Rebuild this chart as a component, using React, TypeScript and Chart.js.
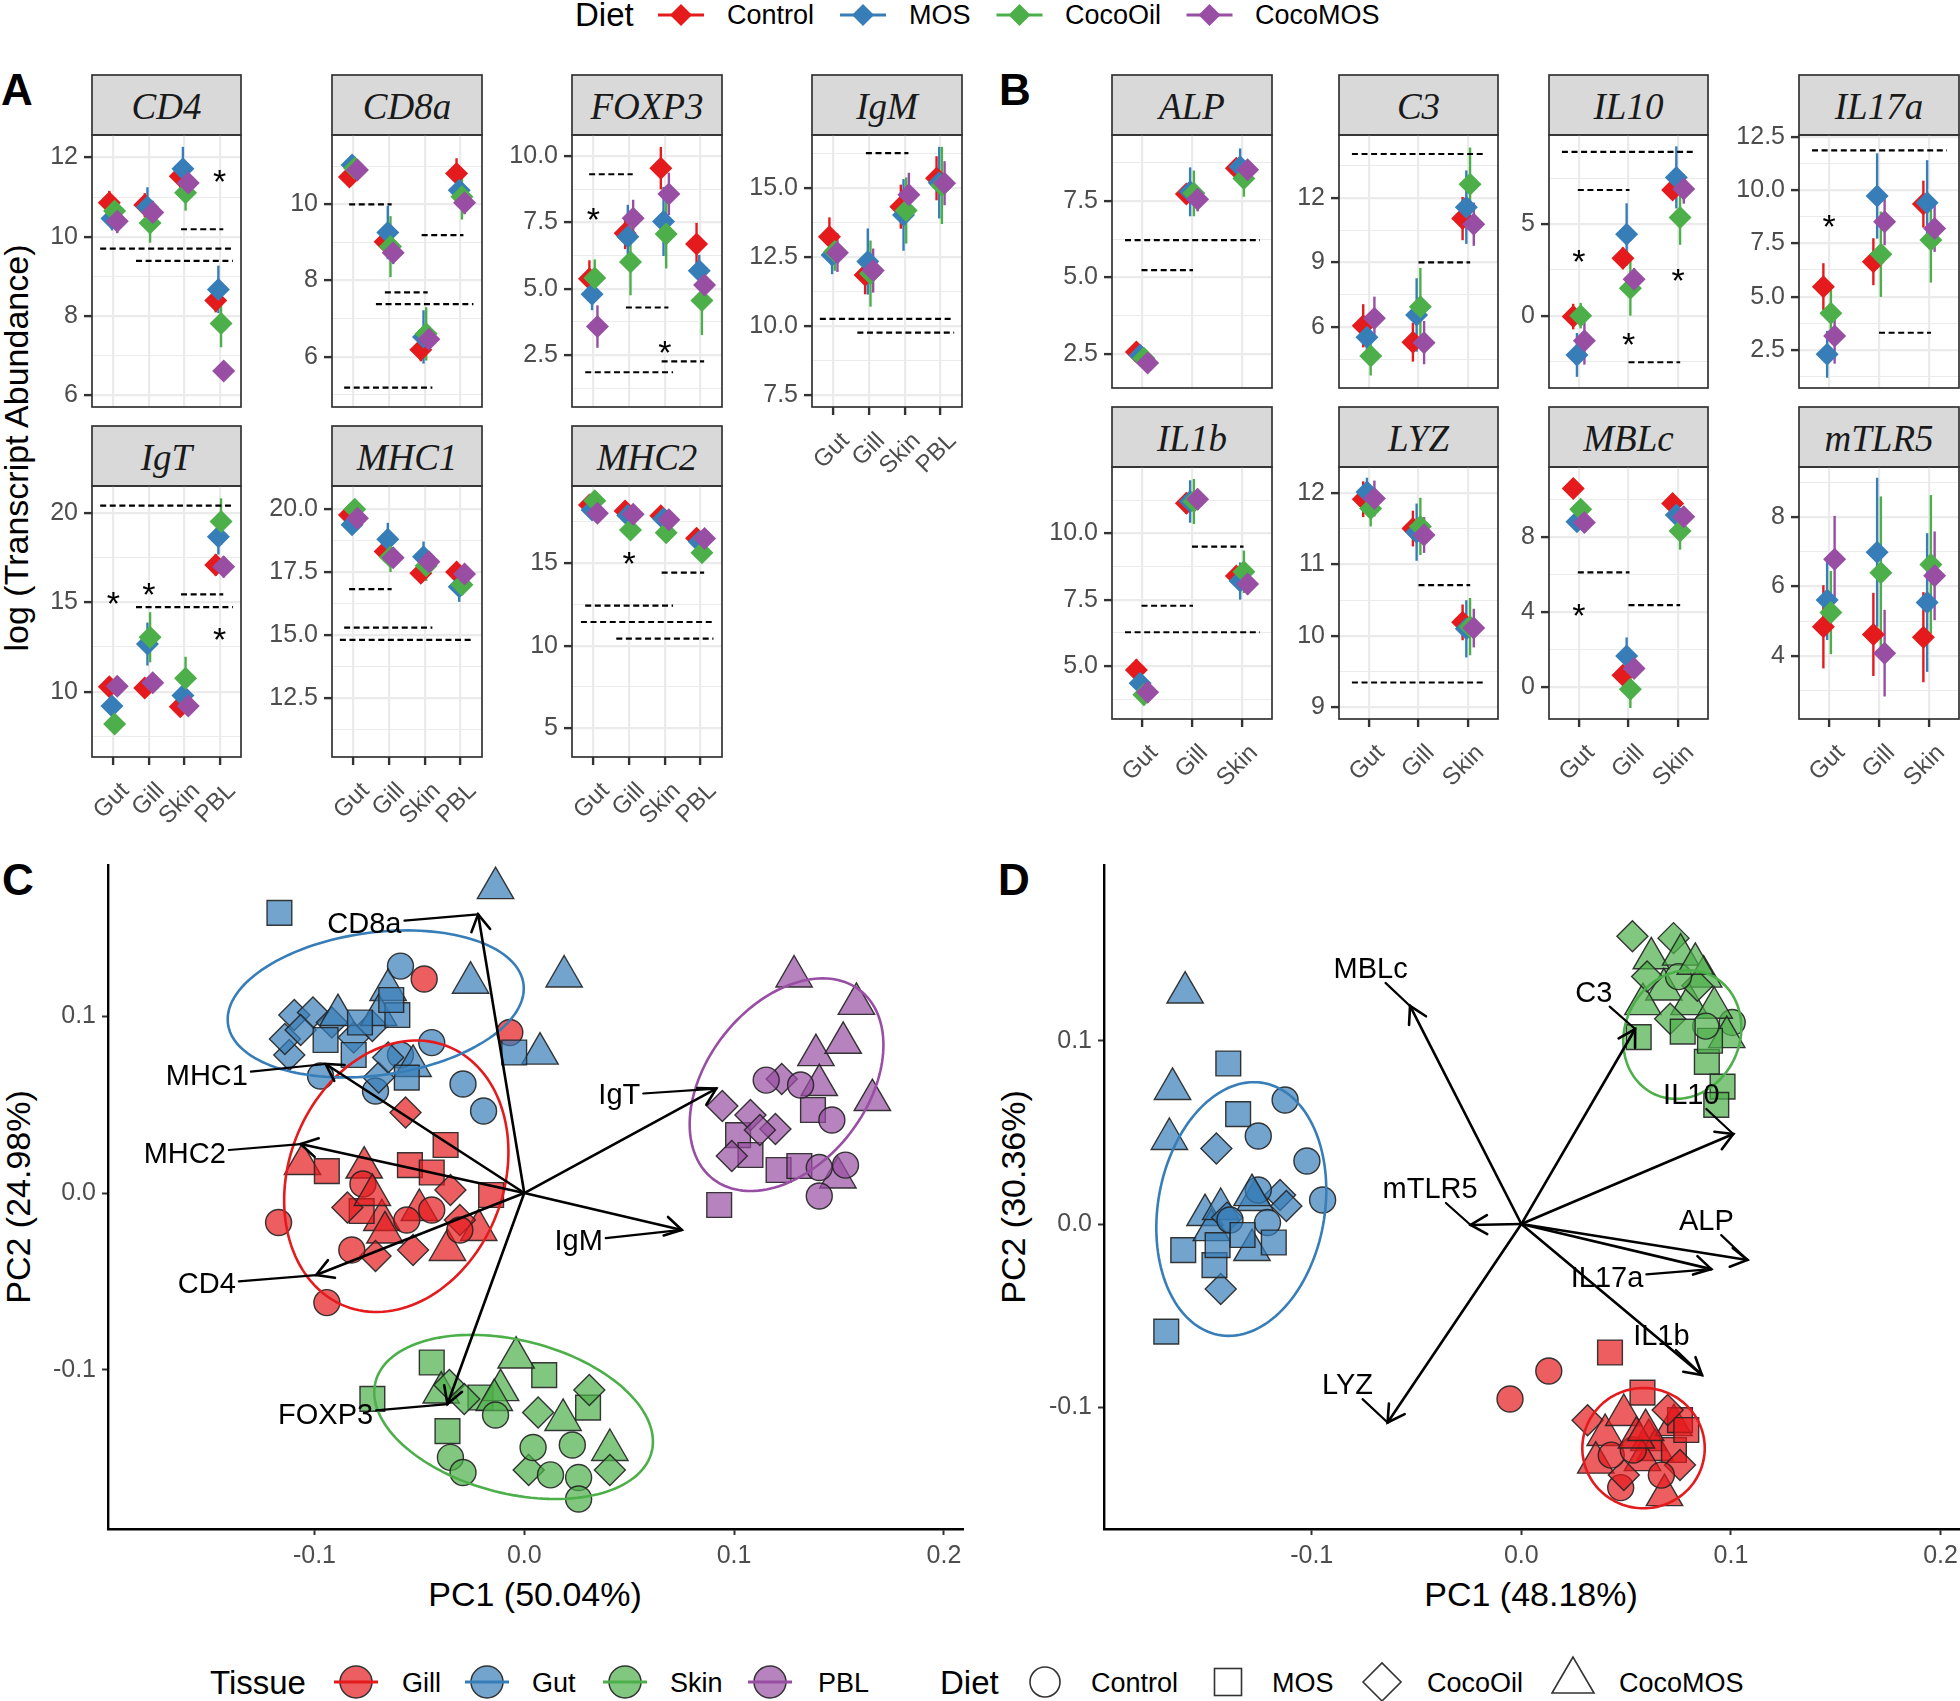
import React, { useEffect, useRef } from "react";
import { Chart, registerables } from "chart.js";

Chart.register(...registerables);

const FONT = "'Liberation Sans', Arial, Helvetica, sans-serif";
const SERIF = "'Liberation Serif', 'Times New Roman', serif";
const TICK_COLOR = "#4D4D4D";

// ---------------- categories ----------------
const diets = ["Control", "MOS", "CocoOil", "CocoMOS"];
const tissuesA = ["Gut", "Gill", "Skin", "PBL"];
const tissuesB = ["Gut", "Gill", "Skin"];
const dietColors = ["#E41A1C", "#377EB8", "#4DAF4A", "#984EA3"];
const dodge = [-0.1125, -0.0375, 0.0375, 0.1125];

// ---------------- Panel A (rows = diet, cols = tissue) ----------------
const cd4Mean = [[10.86, 10.8, 11.53, 8.39], [10.46, 10.75, 11.72, 8.67], [10.65, 10.35, 11.11, 7.81], [10.39, 10.61, 11.36, 6.61]];
const cd4Err = [[0.3, 0.3, 0.3, 0.3], [0.3, 0.5, 0.55, 0.6], [0.3, 0.5, 0.45, 0.6], [0.3, 0.3, 0.3, 0.2]];
const cd4Sig = [[0.63, 4.37, 9.7], [1.64, 4.37, 9.39], [2.91, 4.1, 10.19]];
const cd4Stars = [[4, 11.6]];
const cd4Ticks = [6, 8, 10, 12];

const cd8aMean = [[10.72, 9.02, 6.18, 10.81], [11.03, 9.26, 6.52, 10.37], [10.95, 8.89, 6.6, 10.2], [10.9, 8.73, 6.46, 10.04]];
const cd8aErr = [[0.25, 0.3, 0.3, 0.4], [0.25, 0.7, 0.7, 0.4], [0.3, 0.8, 0.7, 0.6], [0.25, 0.3, 0.3, 0.3]];
const cd8aSig = [[0.88, 2.07, 10.0], [2.91, 4.08, 9.19], [1.88, 3.08, 7.69], [1.63, 4.36, 7.38], [0.74, 3.21, 5.19]];
const cd8aStars: number[][] = [];
const cd8aTicks = [6, 8, 10];

const foxp3Mean = [[5.37, 7.09, 9.54, 6.68], [4.79, 6.96, 7.53, 5.67], [5.4, 6.0, 7.06, 4.55], [3.57, 7.65, 8.57, 5.14]];
const foxp3Err = [[0.7, 0.6, 0.8, 0.8], [0.6, 1.2, 1.3, 0.6], [0.7, 1.25, 1.3, 1.3], [0.8, 0.7, 0.8, 0.5]];
const foxp3Sig = [[0.88, 2.1, 9.31], [1.91, 3.1, 4.29], [0.77, 3.23, 1.85], [2.91, 4.1, 2.26]];
const foxp3Stars = [[1, 7.9], [3, 2.9]];
const foxp3Ticks = [2.5, 5, 7.5, 10];

const igmMean = [[13.24, 11.85, 14.33, 15.36], [12.58, 12.34, 14.03, 15.2], [12.7, 11.9, 14.19, 15.1], [12.66, 12.01, 14.76, 15.18]];
const igmErr = [[0.7, 0.7, 0.8, 0.8], [0.7, 1.2, 1.3, 1.3], [0.7, 1.2, 1.2, 1.4], [0.7, 0.8, 0.8, 0.8]];
const igmSig = [[1.91, 3.1, 16.27], [0.62, 4.38, 10.26], [1.67, 4.38, 9.76]];
const igmStars: number[][] = [];
const igmTicks = [7.5, 10, 12.5, 15];

const igtMean = [[10.28, 10.2, 9.16, 17.08], [9.2, 12.66, 9.78, 18.66], [8.19, 13.04, 10.75, 19.5], [10.3, 10.5, 9.2, 16.98]];
const igtErr = [[0.4, 0.4, 0.4, 0.6], [0.4, 1.2, 0.5, 1.0], [0.4, 1.4, 1.2, 1.3], [0.4, 0.4, 0.4, 0.6]];
const igtSig = [[0.63, 4.37, 20.39], [2.91, 4.1, 15.44], [1.64, 4.37, 14.72]];
const igtStars = [[1, 15.36], [2, 15.87], [4, 13.35]];
const igtTicks = [10, 15, 20];

const mhc1Mean = [[19.76, 18.31, 17.45, 17.5], [19.37, 18.8, 18.11, 16.92], [19.99, 18.1, 17.75, 17.0], [19.63, 18.07, 17.91, 17.42]];
const mhc1Err = [[0.3, 0.3, 0.3, 0.3], [0.3, 0.65, 0.6, 0.6], [0.3, 0.6, 0.6, 0.4], [0.3, 0.3, 0.3, 0.3]];
const mhc1Sig = [[0.88, 2.07, 16.82], [0.74, 3.21, 15.3], [0.62, 4.36, 14.81]];
const mhc1Stars: number[][] = [];
const mhc1Ticks = [12.5, 15, 17.5, 20];

const mhc2Mean = [[18.53, 18.17, 17.87, 16.51], [18.23, 17.9, 17.7, 16.3], [18.78, 17.02, 16.85, 15.64], [18.03, 17.97, 17.63, 16.5]];
const mhc2Err = [[0.3, 0.3, 0.3, 0.3], [0.3, 0.3, 0.3, 0.3], [0.3, 0.3, 0.3, 0.3], [0.3, 0.3, 0.3, 0.3]];
const mhc2Sig = [[2.91, 4.1, 14.43], [0.77, 3.23, 12.43], [0.65, 4.36, 11.44], [1.64, 4.36, 10.43]];
const mhc2Stars = [[2, 15.5]];
const mhc2Ticks = [5, 10, 15];

// ---------------- Panel B ----------------
const alpMean = [[2.56, 7.73, 8.57], [2.45, 7.8, 8.62], [2.35, 7.75, 8.24], [2.2, 7.56, 8.52]];
const alpErr = [[0.2, 0.3, 0.3], [0.2, 0.8, 0.6], [0.2, 0.75, 0.6], [0.2, 0.4, 0.3]];
const alpSig = [[0.66, 3.36, 6.22], [0.99, 2.02, 5.24]];
const alpStars: number[][] = [];
const alpTicks = [2.5, 5, 7.5];

const c3Mean = [[6.07, 5.31, 11.03], [5.54, 6.57, 11.56], [4.67, 6.95, 12.62], [6.42, 5.29, 10.77]];
const c3Err = [[1.0, 0.9, 1.0], [0.6, 1.7, 1.7], [0.9, 1.8, 1.7], [1.0, 1.0, 1.0]];
const c3Sig = [[0.66, 3.34, 14.02], [2.0, 3.04, 9.0]];
const c3Stars: number[][] = [];
const c3Ticks = [6, 9, 12];

const il10Mean = [[-0.05, 3.14, 6.88], [-2.15, 4.45, 7.57], [0, 1.5, 5.38], [-1.38, 2.0, 6.93]];
const il10Err = [[0.7, 0.6, 0.5], [1.2, 1.7, 1.7], [0.7, 1.5, 1.5], [1.3, 0.6, 0.8]];
const il10Sig = [[0.66, 3.36, 8.97], [0.98, 2.02, 6.88], [2.0, 3.04, -2.55]];
const il10Stars = [[1, 3.41], [2, -1.11], [3, 2.37]];
const il10Ticks = [0, 5];

const il17aMean = [[5.47, 6.64, 9.34], [2.3, 9.72, 9.4], [4.22, 6.99, 7.66], [3.16, 8.51, 8.2]];
const il17aErr = [[1.1, 1.1, 1.1], [1.1, 2.0, 2.0], [1.2, 2.0, 2.0], [1.3, 1.1, 1.1]];
const il17aSig = [[0.66, 3.36, 11.86], [2.0, 3.04, 3.31]];
const il17aStars = [[1, 8.67]];
const il17aTicks = [2.5, 5, 7.5, 10, 12.5];

const il1bMean = [[4.85, 11.13, 8.39], [4.35, 11.2, 8.2], [3.91, 11.2, 8.55], [4.01, 11.28, 8.09]];
const il1bErr = [[0.4, 0.4, 0.3], [0.4, 0.8, 0.7], [0.4, 0.85, 0.8], [0.4, 0.4, 0.4]];
const il1bSig = [[2.0, 3.03, 9.5], [0.99, 2.02, 7.27], [0.66, 3.36, 6.27]];
const il1bStars: number[][] = [];
const il1bTicks = [5, 7.5, 10];

const lyzMean = [[11.91, 11.5, 10.19], [12.01, 11.45, 10.1], [11.78, 11.53, 10.13], [11.92, 11.41, 10.11]];
const lyzErr = [[0.25, 0.25, 0.25], [0.2, 0.4, 0.4], [0.25, 0.4, 0.4], [0.25, 0.25, 0.27]];
const lyzSig = [[2.0, 3.04, 10.71], [0.66, 3.34, 9.35]];
const lyzStars: number[][] = [];
const lyzTicks = [9, 10, 11, 12];

const mblcMean = [[10.62, 0.62, 9.82], [8.84, 1.64, 9.2], [9.5, -0.14, 8.34], [8.8, 0.98, 9.1]];
const mblcErr = [[0.4, 0.4, 0.4], [0.4, 1.0, 0.9], [0.5, 1.0, 1.0], [0.4, 0.4, 0.4]];
const mblcSig = [[0.98, 2.02, 6.13], [2.0, 3.04, 4.37]];
const mblcStars = [[1, 4.28]];
const mblcTicks = [0, 4, 8];

const mtlr5Mean = [[4.84, 4.62, 4.54], [5.61, 6.99, 5.54], [5.25, 6.4, 6.64], [6.79, 4.08, 6.31]];
const mtlr5Err = [[1.2, 1.2, 1.3], [1.15, 2.15, 2.0], [1.2, 2.2, 2.0], [1.25, 1.25, 1.28]];
const mtlr5Sig: number[][] = [];
const mtlr5Stars: number[][] = [];
const mtlr5Ticks = [4, 6, 8];

// ---------------- Panel C (PCA) : [PC1, PC2, diet index] ----------------
const pcaCGill = [[-0.0477, 0.1211, 0], [-0.0069, 0.0908, 0], [-0.0566, 0.0455, 2], [-0.0375, 0.0272, 1], [-0.1057, 0.0164, 3], [-0.0941, 0.0124, 1], [-0.1171, -0.0167, 0], [-0.0941, -0.062, 0], [-0.0763, 0.0144, 3], [-0.0679, -0.0153, 3], [-0.0664, -0.0223, 3], [-0.0366, -0.0322, 3], [-0.0217, -0.0209, 3], [-0.05, -0.0096, 3], [-0.0545, 0.0158, 1], [-0.0441, 0.0116, 1], [-0.0158, -0.0011, 1], [-0.0775, -0.0102, 1], [-0.0843, -0.0082, 2], [-0.0709, -0.0356, 2], [-0.053, -0.0322, 2], [-0.0352, 0.0017, 2], [-0.0307, -0.0153, 2], [-0.0822, -0.0322, 0], [-0.0769, 0.0051, 0], [-0.056, -0.0153, 0], [-0.0307, -0.0209, 0], [-0.0441, -0.0096, 0], [-0.0724, -0.0011, 3]];
const pcaCGut = [[-0.1167, 0.1585, 1], [-0.0137, 0.1725, 3], [0.019, 0.1225, 3], [-0.0256, 0.119, 3], [0.0075, 0.0789, 3], [-0.0048, 0.0795, 1], [-0.0441, 0.0851, 0], [-0.0292, 0.0617, 0], [-0.0194, 0.0464, 0], [-0.0971, 0.0662, 0], [-0.0709, 0.0577, 0], [-0.059, 0.1284, 0], [-0.059, 0.0781, 0], [-0.1096, 0.1007, 2], [-0.112, 0.0781, 2], [-0.1007, 0.1021, 2], [-0.1141, 0.0871, 2], [-0.0917, 0.0965, 2], [-0.0813, 0.088, 2], [-0.0724, 0.0945, 2], [-0.0694, 0.0653, 2], [-0.0649, 0.0767, 2], [-0.1066, 0.0922, 2], [-0.0888, 0.1007, 3], [-0.0649, 0.1149, 3], [-0.0694, 0.1007, 3], [-0.053, 0.0719, 3], [-0.0783, 0.0965, 1], [-0.0605, 0.1007, 1], [-0.056, 0.0653, 1], [-0.0634, 0.1092, 1], [-0.0947, 0.0866, 1], [-0.0813, 0.0781, 1]];
const pcaCSkin = [[-0.0724, -0.1165, 1], [-0.0441, -0.0959, 1], [-0.0366, -0.1347, 1], [0.0095, -0.103, 1], [0.0304, -0.1214, 1], [-0.0209, -0.1157, 1], [-0.0396, -0.1129, 3], [-0.0039, -0.0931, 3], [-0.0113, -0.1115, 3], [0.0185, -0.1284, 3], [0.0408, -0.1454, 3], [-0.0143, -0.1171, 3], [-0.0357, -0.1086, 2], [-0.0286, -0.1165, 2], [0.0066, -0.1242, 2], [0.031, -0.1115, 2], [0.0408, -0.1567, 2], [0.0021, -0.1567, 2], [-0.0352, -0.1496, 0], [-0.0292, -0.1581, 0], [-0.0137, -0.1256, 0], [0.0042, -0.144, 0], [0.0125, -0.1595, 0], [0.0229, -0.1426, 0], [0.0259, -0.161, 0], [0.0259, -0.1731, 0]];
const pcaCPBL = [[0.1286, 0.1225, 3], [0.1583, 0.107, 3], [0.139, 0.078, 3], [0.152, 0.085, 3], [0.1659, 0.0526, 3], [0.1495, 0.0088, 3], [0.1406, 0.0611, 3], [0.0929, -0.0068, 1], [0.1212, 0.013, 1], [0.1311, 0.0153, 1], [0.1019, 0.0328, 1], [0.1078, 0.0215, 1], [0.1376, 0.047, 1], [0.0944, 0.0492, 2], [0.0989, 0.0209, 2], [0.1078, 0.0441, 2], [0.1197, 0.0362, 2], [0.1227, 0.0645, 2], [0.1123, 0.0356, 2], [0.1153, 0.0639, 0], [0.1406, -0.0017, 0], [0.1531, 0.0158, 0], [0.1406, 0.0144, 0], [0.1317, 0.0611, 0], [0.1466, 0.0413, 0]];
// ellipses: centre, semi-axis u, semi-axis v
const pcaCEllipses = [[-0.061, 0.0095, 0.0533, 0.008, 0.004, 0.0764], [-0.0708, 0.107, 0.0705, 0.007, 0.003, 0.041], [-0.0051, -0.1267, 0.0658, -0.0198, 0.009, 0.042], [0.125, 0.0613, 0.0351, 0.0533, 0.03, -0.0279]];
const pcaCVarNames = ["CD8a", "MHC1", "MHC2", "CD4", "FOXP3", "IgT", "IgM"];
const pcaCVarTips = [[-0.022, 0.1577], [-0.0947, 0.073], [-0.1066, 0.0277], [-0.0992, -0.0464], [-0.0366, -0.1194], [0.0915, 0.0591], [0.0751, -0.0209]];
const pcaCVarLabels = [[-0.0762, 0.1521], [-0.1513, 0.0662], [-0.1618, 0.0223], [-0.1513, -0.0515], [-0.0947, -0.1256], [0.0453, 0.0554], [0.0259, -0.0272]];

// ---------------- Panel D (PCA) ----------------
const pcaDGill = [[0.0423, -0.0701, 1], [0.0131, -0.0802, 0], [-0.0054, -0.0955, 0], [0.0578, -0.092, 1], [0.0316, -0.107, 2], [0.0683, -0.1479, 3], [0.0474, -0.1438, 0], [0.04, -0.1151, 3], [0.0489, -0.1042, 3], [0.0608, -0.1179, 3], [0.0638, -0.1233, 3], [0.0578, -0.1288, 3], [0.0355, -0.1302, 3], [0.0728, -0.1097, 3], [0.0757, -0.107, 1], [0.0728, -0.1233, 1], [0.0787, -0.1124, 1], [0.0698, -0.1015, 2], [0.0489, -0.137, 2], [0.0757, -0.1315, 2], [0.0429, -0.1261, 0], [0.0534, -0.1233, 0], [0.0668, -0.137, 0], [0.0549, -0.1165, 3], [0.0593, -0.1124, 3]];
const pcaDGut = [[-0.1604, 0.1263, 3], [-0.1398, 0.0876, 1], [-0.1664, 0.0737, 3], [-0.1679, 0.0464, 3], [-0.1351, 0.06, 1], [-0.1127, 0.0677, 0], [-0.1255, 0.048, 0], [-0.1455, 0.0412, 2], [-0.1023, 0.0344, 0], [-0.0948, 0.0131, 0], [-0.1694, -0.0587, 1], [-0.1434, -0.0355, 2], [-0.1613, -0.0142, 1], [-0.1464, -0.0224, 1], [-0.1509, 0.0049, 3], [-0.127, 0.0131, 3], [-0.1479, -0.0033, 3], [-0.1285, -0.0142, 3], [-0.1434, 0.0082, 3], [-0.1151, 0.0158, 2], [-0.1121, 0.0098, 2], [-0.1404, 0.0035, 2], [-0.1255, 0.0186, 0], [-0.1211, 0.0008, 0], [-0.139, 0.0022, 0], [-0.1181, -0.0101, 1], [-0.1449, -0.0115, 1], [-0.133, -0.006, 1], [-0.1285, 0.0158, 3]];
const pcaDSkin = [[0.053, 0.157, 2], [0.0726, 0.156, 2], [0.1006, 0.11, 0], [0.0885, 0.0885, 1], [0.096, 0.075, 1], [0.093, 0.065, 1], [0.062, 0.145, 3], [0.076, 0.147, 3], [0.087, 0.135, 3], [0.068, 0.128, 3], [0.08, 0.12, 3], [0.092, 0.118, 3], [0.058, 0.12, 3], [0.098, 0.102, 3], [0.071, 0.112, 2], [0.084, 0.13, 2], [0.06, 0.135, 2], [0.09, 0.1, 1], [0.056, 0.102, 1], [0.075, 0.135, 0], [0.088, 0.108, 0], [0.077, 0.105, 1], [0.083, 0.142, 3]];
const pcaDEllipses = [[0.0583, -0.1223, 0.0292, 0, 0, 0.0328], [-0.1336, 0.0082, 0.0401, 0, 0.006, 0.0692], [0.0768, 0.1034, 0.028, 0, 0.003, 0.0351]];
const pcaDVarNames = ["MBLc", "C3", "IL10", "ALP", "IL17a", "IL1b", "LYZ", "mTLR5"];
const pcaDVarTips = [[-0.0531, 0.119], [0.0543, 0.1064], [0.1011, 0.0491], [0.1079, -0.0196], [0.0906, -0.0246], [0.0862, -0.0824], [-0.0638, -0.1083], [-0.0242, -0.0005]];
const pcaDVarLabels = [[-0.0719, 0.1392], [0.0346, 0.1263], [0.0811, 0.0704], [0.0883, 0.0016], [0.0409, -0.0292], [0.0668, -0.0611], [-0.0829, -0.0879], [-0.0435, 0.0191]];

const pcaTicks = [-0.1, 0, 0.1, 0.2];
const pcaYTicks = [-0.1, 0, 0.1];
const tissueNames = ["Gill", "Gut", "Skin", "PBL"];
const tissueColors = ["#E41A1C", "#377EB8", "#4DAF4A", "#984EA3"];

// ---------------- layout (positions only) ----------------
const colsA = [92, 332, 572, 812];
const widthsA = [149, 150, 150, 150];
const rowsA = [[135, 272], [486, 271]];
const colsB = [1112, 1339, 1549, 1799];
const widthsB = [160, 159, 159, 160];
const rowsB = [[135, 253], [467, 252]];

type Facet = {
  gene: string; tissues: string[]; mean: number[][]; err: number[][]; sig: number[][]; stars: number[][];
  ticks: number[]; range: number[]; dec: number; box: number[]; showX: boolean;
};
const fa = (r: number, c: number) => [colsA[c], rowsA[r][0], widthsA[c], rowsA[r][1]];
const fb = (r: number, c: number) => [colsB[c], rowsB[r][0], widthsB[c], rowsB[r][1]];

const facets: Facet[] = [
  { gene: "CD4", tissues: tissuesA, mean: cd4Mean, err: cd4Err, sig: cd4Sig, stars: cd4Stars, ticks: cd4Ticks, range: [5.7, 12.57], dec: 0, box: fa(0, 0), showX: false },
  { gene: "CD8a", tissues: tissuesA, mean: cd8aMean, err: cd8aErr, sig: cd8aSig, stars: cd8aStars, ticks: cd8aTicks, range: [4.68, 11.82], dec: 0, box: fa(0, 1), showX: false },
  { gene: "FOXP3", tissues: tissuesA, mean: foxp3Mean, err: foxp3Err, sig: foxp3Sig, stars: foxp3Stars, ticks: foxp3Ticks, range: [0.54, 10.79], dec: 1, box: fa(0, 2), showX: false },
  { gene: "IgM", tissues: tissuesA, mean: igmMean, err: igmErr, sig: igmSig, stars: igmStars, ticks: igmTicks, range: [7.06, 16.93], dec: 1, box: fa(0, 3), showX: true },
  { gene: "IgT", tissues: tissuesA, mean: igtMean, err: igtErr, sig: igtSig, stars: igtStars, ticks: igtTicks, range: [6.35, 21.49], dec: 0, box: fa(1, 0), showX: true },
  { gene: "MHC1", tissues: tissuesA, mean: mhc1Mean, err: mhc1Err, sig: mhc1Sig, stars: mhc1Stars, ticks: mhc1Ticks, range: [10.17, 20.91], dec: 1, box: fa(1, 1), showX: true },
  { gene: "MHC2", tissues: tissuesA, mean: mhc2Mean, err: mhc2Err, sig: mhc2Sig, stars: mhc2Stars, ticks: mhc2Ticks, range: [3.26, 19.68], dec: 0, box: fa(1, 2), showX: true },
  { gene: "ALP", tissues: tissuesB, mean: alpMean, err: alpErr, sig: alpSig, stars: alpStars, ticks: alpTicks, range: [1.38, 9.66], dec: 1, box: fb(0, 0), showX: false },
  { gene: "C3", tissues: tissuesB, mean: c3Mean, err: c3Err, sig: c3Sig, stars: c3Stars, ticks: c3Ticks, range: [3.19, 14.9], dec: 0, box: fb(0, 1), showX: false },
  { gene: "IL10", tissues: tissuesB, mean: il10Mean, err: il10Err, sig: il10Sig, stars: il10Stars, ticks: il10Ticks, range: [-3.96, 9.89], dec: 0, box: fb(0, 2), showX: false },
  { gene: "IL17a", tissues: tissuesB, mean: il17aMean, err: il17aErr, sig: il17aSig, stars: il17aStars, ticks: il17aTicks, range: [0.72, 12.58], dec: 1, box: fb(0, 3), showX: false },
  { gene: "IL1b", tissues: tissuesB, mean: il1bMean, err: il1bErr, sig: il1bSig, stars: il1bStars, ticks: il1bTicks, range: [3.0, 12.5], dec: 1, box: fb(1, 0), showX: true },
  { gene: "LYZ", tissues: tissuesB, mean: lyzMean, err: lyzErr, sig: lyzSig, stars: lyzStars, ticks: lyzTicks, range: [8.84, 12.36], dec: 0, box: fb(1, 1), showX: true },
  { gene: "MBLc", tissues: tissuesB, mean: mblcMean, err: mblcErr, sig: mblcSig, stars: mblcStars, ticks: mblcTicks, range: [-1.73, 11.77], dec: 0, box: fb(1, 2), showX: true },
  { gene: "mTLR5", tissues: tissuesB, mean: mtlr5Mean, err: mtlr5Err, sig: mtlr5Sig, stars: mtlr5Stars, ticks: mtlr5Ticks, range: [2.18, 9.45], dec: 0, box: fb(1, 3), showX: true },
];

const AXIS_W = 90;
const PAD_T = 20;
const PAD_B = 16;
const X_H = 100;

function FacetChart({ f }: { f: Facet }) {
  const ref = useRef<HTMLCanvasElement>(null);
  const [L, T, W, H] = f.box;
  const cw = AXIS_W + W + 6;
  const ch = PAD_T + H + (f.showX ? X_H : PAD_B);
  useEffect(() => {
    const n = f.tissues.length;
    const [yMin, yMax] = f.range;
    const majors = f.ticks;
    const step = majors[1] - majors[0];
    let start = majors[0] - step / 2;
    while (start - step >= yMin) start -= step;
    const minors: number[] = [];
    for (let v = start; v <= yMax; v += step) if (v >= yMin) minors.push(v);
    const isMajor = (v: number) => majors.some((m) => Math.abs(m - v) < 1e-6);
    const allTicks = [...majors.filter((v) => v >= yMin && v <= yMax), ...minors].sort((a, b) => a - b);

    const datasets = diets.map((d, k) => ({
      label: d,
      data: f.tissues.map((_, i) => ({ x: i + 1 + dodge[k], y: f.mean[k][i] })),
      pointStyle: "rectRot",
      pointRadius: 11.5,
      pointBackgroundColor: dietColors[k],
      pointBorderColor: dietColors[k],
      pointBorderWidth: 0,
      backgroundColor: dietColors[k],
      borderColor: dietColors[k],
      order: 4 - k,
    }));

    const errPlugin = {
      id: "errbars",
      beforeDatasetsDraw(chart: any) {
        const { ctx, chartArea: a, scales } = chart;
        ctx.save();
        ctx.beginPath();
        ctx.rect(a.left, a.top, a.right - a.left, a.bottom - a.top);
        ctx.clip();
        ctx.lineWidth = 2.4;
        f.mean.forEach((row, k) => {
          ctx.strokeStyle = dietColors[k];
          row.forEach((m, i) => {
            const px = scales.x.getPixelForValue(i + 1 + dodge[k]);
            ctx.beginPath();
            ctx.moveTo(px, scales.y.getPixelForValue(m - f.err[k][i]));
            ctx.lineTo(px, scales.y.getPixelForValue(m + f.err[k][i]));
            ctx.stroke();
          });
        });
        ctx.restore();
      },
    };
    const annPlugin = {
      id: "ann",
      afterDatasetsDraw(chart: any) {
        const { ctx, scales } = chart;
        ctx.save();
        ctx.strokeStyle = "#000";
        ctx.lineWidth = 2.2;
        ctx.setLineDash([6, 3.6]);
        f.sig.forEach(([x1, x2, yv]) => {
          const py = scales.y.getPixelForValue(yv);
          ctx.beginPath();
          ctx.moveTo(scales.x.getPixelForValue(x1), py);
          ctx.lineTo(scales.x.getPixelForValue(x2), py);
          ctx.stroke();
        });
        ctx.setLineDash([]);
        ctx.fillStyle = "#000";
        ctx.font = `34px ${FONT}`;
        ctx.textAlign = "center";
        ctx.textBaseline = "alphabetic";
        f.stars.forEach(([sx, sy]) => {
          ctx.fillText("*", scales.x.getPixelForValue(sx), scales.y.getPixelForValue(sy) + 0.58 * 34);
        });
        ctx.restore();
      },
      afterDraw(chart: any) {
        const { ctx, chartArea: a } = chart;
        ctx.save();
        ctx.strokeStyle = "#333333";
        ctx.lineWidth = 1.7;
        ctx.strokeRect(a.left, a.top, a.right - a.left, a.bottom - a.top);
        ctx.restore();
      },
    };

    const chart = new Chart(ref.current as HTMLCanvasElement, {
      type: "scatter",
      data: { datasets } as any,
      options: {
        responsive: false,
        maintainAspectRatio: false,
        animation: false,
        events: [],
        layout: { autoPadding: false, padding: { left: 0, top: PAD_T, right: 6, bottom: f.showX ? 0 : PAD_B } },
        plugins: { legend: { display: false }, tooltip: { enabled: false }, title: { display: false } },
        scales: {
          x: {
            type: "linear",
            min: 0.4,
            max: n + 0.6,
            afterBuildTicks: (s: any) => {
              s.ticks = f.tissues.map((_, i) => ({ value: i + 1 }));
            },
            afterFit: (s: any) => {
              s.height = f.showX ? X_H : 0;
              s.paddingLeft = 0;
              s.paddingRight = 0;
            },
            ticks: {
              display: f.showX,
              autoSkip: false,
              minRotation: 45,
              maxRotation: 45,
              padding: 12,
              labelOffset: 12,
              color: TICK_COLOR,
              font: { family: FONT, size: 24 },
              callback: (v: any) => f.tissues[Math.round(Number(v)) - 1] ?? "",
            },
            grid: { color: "#EBEBEB", lineWidth: 2.2, drawTicks: f.showX, tickLength: 8, tickColor: "#333333", tickWidth: 2.4 },
            border: { display: false },
          },
          y: {
            type: "linear",
            min: yMin,
            max: yMax,
            afterBuildTicks: (s: any) => {
              s.ticks = allTicks.map((v) => ({ value: v }));
            },
            afterFit: (s: any) => {
              s.width = AXIS_W;
              s.paddingTop = 0;
              s.paddingBottom = 0;
            },
            ticks: {
              autoSkip: false,
              padding: 6,
              color: TICK_COLOR,
              font: { family: FONT, size: 25 },
              callback: (v: any) => (isMajor(Number(v)) ? Number(v).toFixed(f.dec) : ""),
            },
            grid: {
              color: "#EBEBEB",
              lineWidth: (c: any) => (c.tick && isMajor(c.tick.value) ? 2.2 : 1.1),
              tickColor: (c: any) => (c.tick && isMajor(c.tick.value) ? "#333333" : "rgba(0,0,0,0)"),
              tickLength: 8,
              tickWidth: 2.4,
              drawTicks: true,
            },
            border: { display: false },
          },
        },
      } as any,
      plugins: [errPlugin, annPlugin],
    });
    return () => chart.destroy();
  }, []);
  return (
    <canvas
      ref={ref}
      width={cw}
      height={ch}
      style={{ position: "absolute", left: L - AXIS_W, top: T - PAD_T, width: cw, height: ch }}
    />
  );
}

// ---------------- biplot ----------------
type Biplot = {
  groups: number[][][]; colors: string[]; ellipses: number[][]; names: string[]; tips: number[][]; labels: number[][];
  xRange: number[]; yRange: number[]; box: number[];
};
const shapeStyles = ["circle", "rect", "rectRot", "triangle"];
const shapeRadii = [13, 17.5, 15.5, 21];
const alpha = (hex: string, a: number) => {
  const r = parseInt(hex.slice(1, 3), 16), g = parseInt(hex.slice(3, 5), 16), b = parseInt(hex.slice(5, 7), 16);
  return `rgba(${r},${g},${b},${a})`;
};
const fmt1 = (v: number) => (Math.abs(v) < 1e-9 ? "0.0" : v.toFixed(1));

const BP_AXIS_W = 100;
const BP_X_H = 60;
const BP_PAD = 10;

function BiplotChart({ b }: { b: Biplot }) {
  const ref = useRef<HTMLCanvasElement>(null);
  const [L, T, W, H] = b.box;
  const cw = BP_AXIS_W + W + 1;
  const ch = BP_PAD + H + BP_X_H;
  useEffect(() => {
    const datasets = b.groups.map((pts, g) => ({
      label: "g" + g,
      data: pts.map((p) => ({ x: p[0], y: p[1] })),
      pointStyle: pts.map((p) => shapeStyles[p[2]]),
      pointRadius: pts.map((p) => shapeRadii[p[2]]),
      pointBackgroundColor: alpha(b.colors[g], 0.7),
      pointBorderColor: "rgba(35,35,35,0.9)",
      pointBorderWidth: 1.4,
      order: b.groups.length - g,
    }));
    const plug = {
      id: "biplot",
      afterDatasetsDraw(chart: any) {
        const { ctx, scales } = chart;
        const X = (v: number) => scales.x.getPixelForValue(v);
        const Y = (v: number) => scales.y.getPixelForValue(v);
        ctx.save();
        b.ellipses.forEach((e, i) => {
          ctx.strokeStyle = b.colors[i];
          ctx.lineWidth = 2.6;
          ctx.beginPath();
          for (let s = 0; s <= 144; s++) {
            const t = (s / 144) * Math.PI * 2;
            const px = X(e[0] + Math.cos(t) * e[2] + Math.sin(t) * e[4]);
            const py = Y(e[1] + Math.cos(t) * e[3] + Math.sin(t) * e[5]);
            if (s === 0) ctx.moveTo(px, py);
            else ctx.lineTo(px, py);
          }
          ctx.closePath();
          ctx.stroke();
        });
        ctx.strokeStyle = "#000";
        ctx.lineWidth = 2.6;
        ctx.lineCap = "round";
        const ox = X(0), oy = Y(0);
        b.tips.forEach(([tx, ty]) => {
          const x1 = X(tx), y1 = Y(ty);
          ctx.beginPath();
          ctx.moveTo(ox, oy);
          ctx.lineTo(x1, y1);
          ctx.stroke();
          const ang = Math.atan2(y1 - oy, x1 - ox);
          const len = 19, A = Math.PI / 6;
          ctx.beginPath();
          ctx.moveTo(x1 - len * Math.cos(ang - A), y1 - len * Math.sin(ang - A));
          ctx.lineTo(x1, y1);
          ctx.lineTo(x1 - len * Math.cos(ang + A), y1 - len * Math.sin(ang + A));
          ctx.stroke();
        });
        ctx.font = `29px ${FONT}`;
        ctx.textAlign = "center";
        ctx.textBaseline = "middle";
        ctx.fillStyle = "#000";
        ctx.lineWidth = 2.2;
        b.names.forEach((name, i) => {
          const cx = X(b.labels[i][0]), cy = Y(b.labels[i][1]);
          const tx = X(b.tips[i][0]), ty = Y(b.tips[i][1]);
          const hw = ctx.measureText(name).width / 2 + 3, hh = 14;
          const dx = tx - cx, dy = ty - cy;
          const t = Math.min(dx !== 0 ? hw / Math.abs(dx) : Infinity, dy !== 0 ? hh / Math.abs(dy) : Infinity);
          if (t < 1) {
            ctx.beginPath();
            ctx.moveTo(cx + dx * t, cy + dy * t);
            ctx.lineTo(tx, ty);
            ctx.stroke();
          }
          ctx.fillText(name, cx, cy + 1);
        });
        ctx.restore();
      },
    };
    const chart = new Chart(ref.current as HTMLCanvasElement, {
      type: "scatter",
      data: { datasets } as any,
      options: {
        responsive: false,
        maintainAspectRatio: false,
        animation: false,
        events: [],
        layout: { autoPadding: false, padding: { left: 0, top: BP_PAD, right: 1, bottom: 0 } },
        plugins: { legend: { display: false }, tooltip: { enabled: false } },
        scales: {
          x: {
            type: "linear",
            min: b.xRange[0],
            max: b.xRange[1],
            afterBuildTicks: (s: any) => {
              s.ticks = pcaTicks.map((v) => ({ value: v }));
            },
            afterFit: (s: any) => {
              s.height = BP_X_H;
              s.paddingLeft = 0;
              s.paddingRight = 0;
            },
            ticks: { autoSkip: false, minRotation: 0, maxRotation: 0, padding: 6, color: TICK_COLOR, font: { family: FONT, size: 25 }, callback: (v: any) => fmt1(Number(v)) },
            grid: { display: true, drawOnChartArea: false, drawTicks: true, tickLength: 6, tickWidth: 2, tickColor: "#333333" },
            border: { display: true, color: "#000", width: 2.4 },
          },
          y: {
            type: "linear",
            min: b.yRange[0],
            max: b.yRange[1],
            afterBuildTicks: (s: any) => {
              s.ticks = pcaYTicks.map((v) => ({ value: v }));
            },
            afterFit: (s: any) => {
              s.width = BP_AXIS_W;
              s.paddingTop = 0;
              s.paddingBottom = 0;
            },
            ticks: { autoSkip: false, padding: 6, color: TICK_COLOR, font: { family: FONT, size: 25 }, callback: (v: any) => fmt1(Number(v)) },
            grid: { display: true, drawOnChartArea: false, drawTicks: true, tickLength: 6, tickWidth: 2, tickColor: "#333333" },
            border: { display: true, color: "#000", width: 2.4 },
          },
        },
      } as any,
      plugins: [plug],
    });
    return () => chart.destroy();
  }, []);
  return (
    <canvas
      ref={ref}
      width={cw}
      height={ch}
      style={{ position: "absolute", left: L - BP_AXIS_W, top: T - BP_PAD, width: cw, height: ch }}
    />
  );
}

const biplotC: Biplot = {
  groups: [pcaCGill, pcaCGut, pcaCSkin, pcaCPBL],
  colors: tissueColors,
  ellipses: pcaCEllipses,
  names: pcaCVarNames,
  tips: pcaCVarTips,
  labels: pcaCVarLabels,
  xRange: [-0.1984, 0.2091],
  yRange: [-0.1901, 0.1856],
  box: [108, 865, 855, 664],
};
const biplotD: Biplot = {
  groups: [pcaDGill, pcaDGut, pcaDSkin],
  colors: tissueColors.slice(0, 3),
  ellipses: pcaDEllipses,
  names: pcaDVarNames,
  tips: pcaDVarTips,
  labels: pcaDVarLabels,
  xRange: [-0.1991, 0.2088],
  yRange: [-0.1664, 0.1959],
  box: [1104, 865, 855, 664],
};

// ---------------- overlay (strips, titles, legends) ----------------
function Overlay() {
  const strips = facets.map((f) => {
    const [L, T, W] = f.box;
    return (
      <g key={f.gene}>
        <rect x={L} y={T - 60} width={W} height={60} fill="#D9D9D9" stroke="#333333" strokeWidth={1.7} />
        <text x={L + W / 2} y={T - 16} textAnchor="middle" fontFamily={SERIF} fontStyle="italic" fontSize={37} fill="#1A1A1A">
          {f.gene}
        </text>
      </g>
    );
  });
  const topKeys = [681, 863, 1019.5, 1209.5];
  const topLabels = [727, 909, 1065, 1255];
  const tKeys = [356, 487, 625, 770];
  const tLabels = [402, 532, 670, 818];
  const dLabels = [1091, 1272, 1427, 1619];
  return (
    <svg width={1960} height={1701} style={{ position: "absolute", left: 0, top: 0 }}>
      {strips}
      <g fontFamily={FONT} fontWeight="bold" fontSize={44} fill="#000">
        <text x={1} y={105}>A</text>
        <text x={999} y={105}>B</text>
        <text x={2} y={895}>C</text>
        <text x={998} y={895}>D</text>
      </g>
      <g fontFamily={FONT} fontSize={34} fill="#000" textAnchor="middle">
        <text transform="translate(28,448) rotate(-90)">log (Transcript Abundance)</text>
        <text transform="translate(30,1197) rotate(-90)">PC2 (24.98%)</text>
        <text transform="translate(1025,1197) rotate(-90)">PC2 (30.36%)</text>
        <text x={535} y={1606}>PC1 (50.04%)</text>
        <text x={1531} y={1606}>PC1 (48.18%)</text>
      </g>
      <text x={575} y={26} fontFamily={FONT} fontSize={33} fill="#000">Diet</text>
      {diets.map((d, k) => (
        <g key={d}>
          <line x1={topKeys[k] - 23} y1={15} x2={topKeys[k] + 23} y2={15} stroke={dietColors[k]} strokeWidth={3} />
          <polygon
            points={`${topKeys[k] - 11},15 ${topKeys[k]},4 ${topKeys[k] + 11},15 ${topKeys[k]},26`}
            fill={dietColors[k]}
          />
          <text x={topLabels[k]} y={24} fontFamily={FONT} fontSize={27} fill="#000">{d}</text>
        </g>
      ))}
      <text x={210} y={1694} fontFamily={FONT} fontSize={33} fill="#000">Tissue</text>
      {tissueNames.map((t, k) => (
        <g key={t}>
          <circle cx={tKeys[k]} cy={1682} r={16} fill={alpha(tissueColors[k], 0.7)} stroke="#333" strokeWidth={1.5} />
          <line x1={tKeys[k] - 22} y1={1682} x2={tKeys[k] + 22} y2={1682} stroke={tissueColors[k]} strokeWidth={3} />
          <text x={tLabels[k]} y={1692} fontFamily={FONT} fontSize={27} fill="#000">{t}</text>
        </g>
      ))}
      <text x={940} y={1694} fontFamily={FONT} fontSize={33} fill="#000">Diet</text>
      <g fill="none" stroke="#333" strokeWidth={1.6}>
        <circle cx={1045} cy={1682} r={15} />
        <rect x={1214.5} y={1668.5} width={27} height={27} />
        <polygon points="1363,1682 1382,1663 1401,1682 1382,1701" />
        <polygon points="1573,1657 1552,1693 1594,1693" />
      </g>
      {diets.map((d, k) => (
        <text key={"dl" + d} x={dLabels[k]} y={1692} fontFamily={FONT} fontSize={27} fill="#000">{d}</text>
      ))}
    </svg>
  );
}

export default function App() {
  return (
    <div style={{ position: "absolute", left: 0, top: 0, width: 1960, height: 1701, background: "#fff", overflow: "hidden" }}>
      <Overlay />
      {facets.map((f) => (
        <FacetChart key={f.gene} f={f} />
      ))}
      <BiplotChart b={biplotC} />
      <BiplotChart b={biplotD} />
    </div>
  );
}
